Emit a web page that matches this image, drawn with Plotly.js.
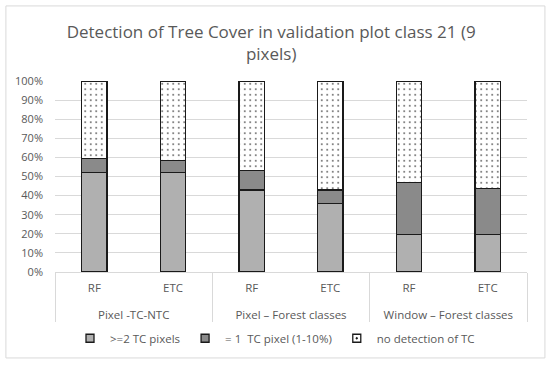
<!DOCTYPE html>
<html>
<head>
<meta charset="utf-8">
<script src="https://cdn.plot.ly/plotly-3.0.1.min.js"></script>
<style>html,body{margin:0;padding:0;background:#fff;}#chart{width:550px;height:365px;}</style>
</head>
<body>
<div id="chart"></div>
<script>
var groups = ["<br>Pixel -TC-NTC", "<br>Pixel -TC-NTC", "<br>Pixel – Forest classes", "<br>Pixel – Forest classes", "<br>Window – Forest classes", "<br>Window – Forest classes"];
var methods = ["RF", "ETC", "RF", "ETC", "RF", "ETC"];
var seriesNames = [">=2 TC pixels", "= 1  TC pixel (1-10%)", "no detection of TC"];
var tcTwoPlus = [52, 52, 43, 36, 19.5, 19.5];
var tcOne = [7.3, 6.2, 10.2, 7, 27.5, 24.4];
var noDetection = [40.7, 41.8, 46.8, 57, 53, 56.1];
var yTickVals = [0, 10, 20, 30, 40, 50, 60, 70, 80, 90, 100];
var yTickText = ["0%", "10%", "20%", "30%", "40%", "50%", "60%", "70%", "80%", "90%", "100%"];

var x = [groups, methods];
var lineStyle = {color: "#1a1a1a", width: 1.3};
var colors = ["#b0b0b0", "#8a8a8a", "#ffffff"];
var traces = [
  {type: "bar", name: seriesNames[0], x: x, y: tcTwoPlus, showlegend: false,
   marker: {color: colors[0], line: lineStyle}},
  {type: "bar", name: seriesNames[1], x: x, y: tcOne, showlegend: false,
   marker: {color: colors[1], line: lineStyle}},
  {type: "bar", name: seriesNames[2], x: x, y: noDetection, showlegend: false,
   marker: {color: colors[2], line: lineStyle,
            pattern: {shape: ".", fgcolor: "#4a4a4a", bgcolor: "#ffffff", size: 5.5, solidity: 0.07}}}
];
// legend proxies (small square swatches like the original)
for (var i = 0; i < 3; i++) {
  traces.push({type: "scatter", mode: "markers", name: seriesNames[i], x: [null], y: [null],
    showlegend: true, marker: {symbol: i === 2 ? "square-dot" : "square", size: 8, color: colors[i],
    line: {color: "#1a1a1a", width: 1.3}}});
}

var font = "Open Sans, Liberation Sans, sans-serif";
var layout = {
  width: 550, height: 365,
  margin: {l: 55, r: 23, t: 81, b: 93},
  paper_bgcolor: "#ffffff", plot_bgcolor: "#ffffff",
  barmode: "stack",
  bargap: 0.68,
  showlegend: true,
  font: {family: font, color: "#595959", size: 11},
  title: {text: "Detection of Tree Cover in validation plot class 21 (9<br>pixels)",
          font: {family: font, size: 17, color: "#595959"},
          x: 0.493, xanchor: "center", y: 0.897, yanchor: "middle"},
  xaxis: {type: "multicategory", showgrid: false, showline: true, linecolor: "#d9d9d9", linewidth: 1,
          showdividers: true, dividercolor: "#d9d9d9", dividerwidth: 1, automargin: false,
          tickfont: {family: font, size: 11.5, color: "#595959"}, ticks: "", ticklabelstandoff: 5},
  yaxis: {range: [0, 100], tickvals: yTickVals, ticktext: yTickText, showgrid: true, automargin: false,
          gridcolor: "#d9d9d9", gridwidth: 1, zeroline: false, showline: false,
          tickfont: {family: font, size: 11, color: "#595959"}, ticks: "", ticklabelstandoff: 11},
  legend: {orientation: "h", x: 0.5, xanchor: "center", xref: "container", y: 0.113, yref: "container", yanchor: "top",
           traceorder: "normal", itemwidth: 30, font: {family: font, size: 11.5, color: "#595959"}},
  shapes: [{type: "rect", xref: "paper", yref: "paper", x0: -0.104, x1: 1.038, y0: -0.45, y1: 1.393,
            line: {color: "#d9d9d9", width: 1}, fillcolor: "rgba(0,0,0,0)", layer: "below"}]
};
Plotly.newPlot("chart", traces, layout, {displayModeBar: false, staticPlot: true});
</script>
</body>
</html>
